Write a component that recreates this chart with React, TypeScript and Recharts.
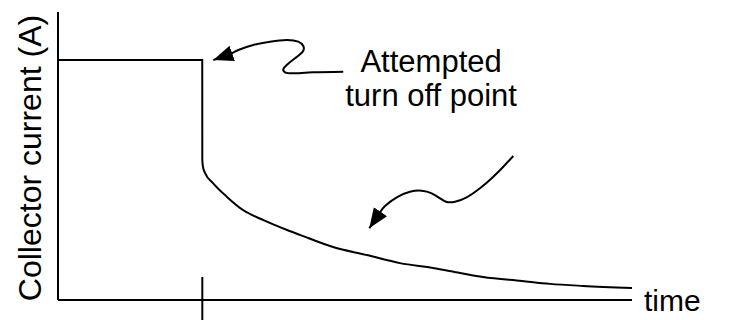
import React from 'react';
import { LineChart, Line, XAxis, YAxis, ReferenceLine, ReferenceDot } from 'recharts';

// collector current vs time (arbitrary units, both axes 0..100)
const timeAxis = [0, 25.13, 25.14, 25.26, 25.61, 27.0, 29.44, 32.23, 35.71, 39.9, 42.16, 47.91, 53.83, 59.58, 65.33, 70.03, 74.04, 80.84, 85.71, 91.46, 100];
const collectorCurrent = [83.33, 83.33, 48.6, 46.2, 44.1, 40.6, 35.8, 31.25, 27.8, 24.3, 22.6, 18.4, 15.6, 12.8, 11.1, 9.4, 8.0, 6.6, 5.6, 4.9, 4.2];

const turnOffTime = 25.14;

// hand drawn annotation arrows, tail first, tip last
const upperArrowT = [49.7, 44.48, 40.99, 39.55, 39.25, 39.84, 41.29, 42.63, 42.74, 41.86, 39.84, 36.93, 34.02, 31.41, 30.26, 27.06];
const upperArrowI = [79.27, 79.06, 78.72, 79.06, 80.1, 81.6, 83.92, 86.22, 88.19, 89.69, 90.28, 89.69, 88.54, 86.81, 85.66, 83.33];
const lowerArrowT = [79.32, 77.58, 75.84, 73.52, 71.2, 69.16, 67.72, 66.55, 65.1, 63.36, 61.32, 59.01, 56.97, 55.98, 54.23];
const lowerArrowI = [50.0, 46.28, 42.81, 38.78, 35.66, 34.13, 34.03, 35.31, 37.05, 37.95, 37.6, 35.66, 32.64, 30.1, 24.9];

const noteLines = ['Attempted', 'turn off point'];
const notePos = { t: 65.0, i: 79.27 };

const FONT = '"Liberation Sans", Arial, sans-serif';

const toPoints = (ts: number[], is: number[]) => ts.map((t, k) => ({ t, i: is[k] }));

const curveData = toPoints(timeAxis, collectorCurrent);
const upperArrow = toPoints(upperArrowT, upperArrowI);
const lowerArrow = toPoints(lowerArrowT, lowerArrowI);

const App: React.FC = () => {
  return (
    <div style={{ position: 'absolute', left: 0, top: 0, width: 734, height: 320, background: '#fff' }}>
      <svg width={0} height={0} style={{ position: 'absolute' }}>
        <defs>
          <marker id="arrowHead" markerWidth={22} markerHeight={18} refX={20} refY={8} orient="auto" markerUnits="userSpaceOnUse">
            <path d="M0,0 L20,8 L0,16 z" fill="#000" />
          </marker>
        </defs>
      </svg>
      <LineChart width={734} height={320} margin={{ top: 12, right: 102, bottom: 0, left: 0 }}>
        <XAxis
          type="number"
          dataKey="t"
          domain={[0, 100]}
          height={20}
          tick={false}
          tickLine={false}
          axisLine={{ stroke: '#000', strokeWidth: 2 }}
          label={(props: any) => {
            const vb = props.viewBox;
            return (
              <text x={vb.x + vb.width + 12} y={vb.y + 11} fontFamily={FONT} fontSize={30} fill="#000">
                time
              </text>
            );
          }}
        />
        <YAxis
          type="number"
          domain={[0, 100]}
          width={58}
          tick={false}
          tickLine={false}
          axisLine={{ stroke: '#000', strokeWidth: 2 }}
          label={(props: any) => {
            const vb = props.viewBox;
            const cx = 41;
            const cy = vb.y + vb.height / 2 + 2;
            return (
              <text
                x={cx}
                y={cy}
                transform={`rotate(-90, ${cx}, ${cy})`}
                textAnchor="middle"
                fontFamily={FONT}
                fontSize={32}
                fill="#000"
              >
                Collector current (A)
              </text>
            );
          }}
        />
        <ReferenceLine
          segment={[{ x: turnOffTime, y: -7 }, { x: turnOffTime, y: 8 }]}
          stroke="#000"
          strokeWidth={2}
          ifOverflow="visible"
        />
        <Line
          data={curveData}
          dataKey="i"
          type="monotone"
          stroke="#000"
          strokeWidth={2}
          dot={false}
          activeDot={false}
          isAnimationActive={false}
        />
        <Line
          data={upperArrow}
          dataKey="i"
          type="natural"
          stroke="#000"
          strokeWidth={2}
          dot={false}
          activeDot={false}
          markerEnd="url(#arrowHead)"
          isAnimationActive={false}
        />
        <Line
          data={lowerArrow}
          dataKey="i"
          type="natural"
          stroke="#000"
          strokeWidth={2}
          dot={false}
          activeDot={false}
          markerEnd="url(#arrowHead)"
          isAnimationActive={false}
        />
        <ReferenceDot
          x={notePos.t}
          y={notePos.i}
          r={0}
          stroke="none"
          label={(props: any) => {
            const vb = props.viewBox;
            const x = vb.x + vb.width / 2;
            return (
              <text x={x} y={vb.y + vb.height / 2} textAnchor="middle" fontFamily={FONT} fontSize={31} fill="#000">
                {noteLines.map((line, k) => (
                  <tspan key={line} x={x} dy={k === 0 ? 0 : 34}>
                    {line}
                  </tspan>
                ))}
              </text>
            );
          }}
        />
      </LineChart>
    </div>
  );
};

export default App;
